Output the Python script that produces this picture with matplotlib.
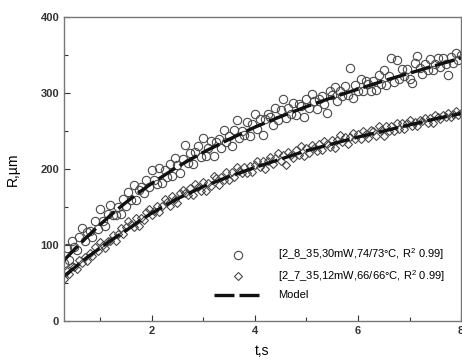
import numpy as np
import matplotlib
matplotlib.use("Agg")
from matplotlib import pyplot as plt
from matplotlib.ticker import MultipleLocator

plt.rcParams['font.family'] = ['Liberation Sans', 'DejaVu Sans']
plt.rcParams['mathtext.default'] = 'regular'

# measurement times, s (same for both runs)
t_obs = [
    0.30, 0.35, 0.40, 0.45, 0.50, 0.55, 0.60, 0.65, 0.70, 0.75,
    0.80, 0.85, 0.90, 0.95, 1.00, 1.05, 1.10, 1.15, 1.20, 1.25,
    1.30, 1.35, 1.40, 1.45, 1.50, 1.55, 1.60, 1.65, 1.70, 1.75,
    1.80, 1.85, 1.90, 1.95, 2.00, 2.05, 2.10, 2.15, 2.20, 2.25,
    2.30, 2.35, 2.40, 2.45, 2.50, 2.55, 2.60, 2.65, 2.70, 2.75,
    2.80, 2.85, 2.90, 2.95, 3.00, 3.05, 3.10, 3.15, 3.20, 3.25,
    3.30, 3.35, 3.40, 3.45, 3.50, 3.55, 3.60, 3.65, 3.70, 3.75,
    3.80, 3.85, 3.90, 3.95, 4.00, 4.05, 4.10, 4.15, 4.20, 4.25,
    4.30, 4.35, 4.40, 4.45, 4.50, 4.55, 4.60, 4.65, 4.70, 4.75,
    4.80, 4.85, 4.90, 4.95, 5.00, 5.05, 5.10, 5.15, 5.20, 5.25,
    5.30, 5.35, 5.40, 5.45, 5.50, 5.55, 5.60, 5.65, 5.70, 5.75,
    5.80, 5.85, 5.90, 5.95, 6.00, 6.05, 6.10, 6.15, 6.20, 6.25,
    6.30, 6.35, 6.40, 6.45, 6.50, 6.55, 6.60, 6.65, 6.70, 6.75,
    6.80, 6.85, 6.90, 6.95, 7.00, 7.05, 7.10, 7.15, 7.20, 7.25,
    7.30, 7.35, 7.40, 7.45, 7.50, 7.55, 7.60, 7.65, 7.70, 7.75,
    7.80, 7.85, 7.90, 7.95, 8.00]

# run 2_8_35 (30 mW), R in um
r_30mw = [
    76, 96, 81, 106, 97, 93, 111, 123, 105, 117,
    118, 111, 131, 121, 147, 132, 125, 141, 153, 140,
    139, 150, 141, 161, 152, 170, 159, 179, 159, 172,
    177, 168, 186, 176, 199, 186, 180, 201, 181, 199,
    190, 206, 191, 215, 205, 195, 213, 231, 208, 221,
    206, 222, 230, 216, 241, 217, 228, 237, 217, 236,
    240, 228, 251, 235, 243, 230, 251, 265, 241, 250,
    245, 262, 244, 259, 272, 253, 266, 245, 266, 272,
    269, 258, 280, 265, 278, 292, 267, 280, 272, 287,
    271, 286, 283, 269, 292, 280, 299, 290, 279, 292,
    296, 286, 274, 302, 297, 308, 290, 302, 296, 309,
    297, 333, 294, 310, 303, 318, 302, 316, 312, 303,
    316, 304, 324, 312, 330, 311, 322, 346, 315, 343,
    318, 332, 322, 331, 319, 313, 340, 349, 333, 325,
    338, 330, 345, 330, 338, 346, 334, 346, 338, 324,
    347, 340, 352, 343, 350]

# run 2_7_35 (12 mW), R in um
r_12mw = [
    56, 66, 62, 73, 71, 69, 81, 77, 84, 79,
    90, 86, 97, 92, 104, 100, 96, 106, 105, 113,
    106, 114, 122, 114, 124, 131, 128, 124, 135, 125,
    136, 133, 143, 148, 139, 145, 152, 143, 152, 161,
    157, 152, 164, 161, 155, 168, 173, 169, 166, 175,
    166, 180, 177, 171, 183, 171, 182, 178, 191, 188,
    179, 189, 186, 196, 186, 196, 190, 202, 197, 195,
    203, 195, 204, 196, 205, 211, 202, 210, 200, 210,
    216, 206, 214, 221, 211, 218, 205, 222, 218, 215,
    225, 219, 230, 217, 227, 221, 231, 228, 224, 233,
    225, 237, 233, 229, 238, 228, 238, 245, 235, 242,
    233, 242, 247, 239, 246, 240, 250, 246, 241, 251,
    250, 244, 257, 251, 244, 256, 250, 257, 250, 260,
    253, 261, 253, 260, 264, 256, 262, 256, 265, 263,
    267, 261, 267, 261, 271, 268, 266, 271, 268, 274,
    268, 273, 276, 271, 274]

# model curves
t_model = [0.3, 0.5, 0.75, 1.0, 1.25, 1.5, 1.75, 2.0, 2.5, 3.0,
           3.5, 4.0, 4.5, 5.0, 5.5, 6.0, 6.5, 7.0, 7.5, 8.0]
model_30mw = [80, 94, 111, 127, 142, 156, 169, 181, 203, 222,
              239, 255, 269, 282, 294, 305, 316, 326, 336, 346]
model_12mw = [59, 70, 84, 96, 108, 119, 131, 142, 161, 177,
              190, 202, 213, 224, 233, 242, 250, 258, 266, 273]

labels = ['[2_8_35,30mW,74/73\u00b0C, R$^2$ 0.99]',
          '[2_7_35,12mW,66/66\u00b0C, R$^2$ 0.99]',
          'Model']

fig = plt.figure(figsize=(4.62, 3.6), dpi=100)
ax = fig.add_axes([0.1385, 0.108, 0.8595, 0.845])

ax.plot(t_obs, r_30mw, linestyle='None', marker='o', markersize=6,
        markerfacecolor='none', markeredgecolor='#4a4a4a', markeredgewidth=0.8,
        label=labels[0])
ax.plot(t_obs, r_12mw, linestyle='None', marker='D', markersize=4.5,
        markerfacecolor='none', markeredgecolor='#4a4a4a', markeredgewidth=0.8,
        label=labels[1])
ax.plot(t_model, model_30mw, color='#111111', linewidth=2.4, dashes=(6, 1.5),
        label=labels[2])
ax.plot(t_model, model_12mw, color='#111111', linewidth=2.4, dashes=(6, 1.5))

ax.set_xlim(0.3, 8.0)
ax.set_ylim(0, 400)
ax.xaxis.set_major_locator(MultipleLocator(2))
ax.xaxis.set_minor_locator(MultipleLocator(1))
ax.yaxis.set_major_locator(MultipleLocator(100))
ax.yaxis.set_minor_locator(MultipleLocator(50))
ax.tick_params(which='both', direction='in', colors='#333333', width=0.8,
               labelsize=8)
ax.tick_params(which='major', length=4)
ax.tick_params(which='minor', length=3)
for lbl in ax.get_xticklabels() + ax.get_yticklabels():
    lbl.set_fontweight('bold')
for s in ax.spines.values():
    s.set_color('#777777')
    s.set_linewidth(1.0)

ax.set_xlabel('t,s', fontsize=10, labelpad=6)
ax.set_ylabel('R,\u00b5m', fontsize=10, labelpad=15)

leg = ax.legend(loc='lower right', bbox_to_anchor=(0.985, 0.035), frameon=False,
                fontsize=8, handlelength=4.3, handletextpad=1.5,
                labelspacing=0.55, numpoints=1)

fig.savefig('out.png', dpi=100)
